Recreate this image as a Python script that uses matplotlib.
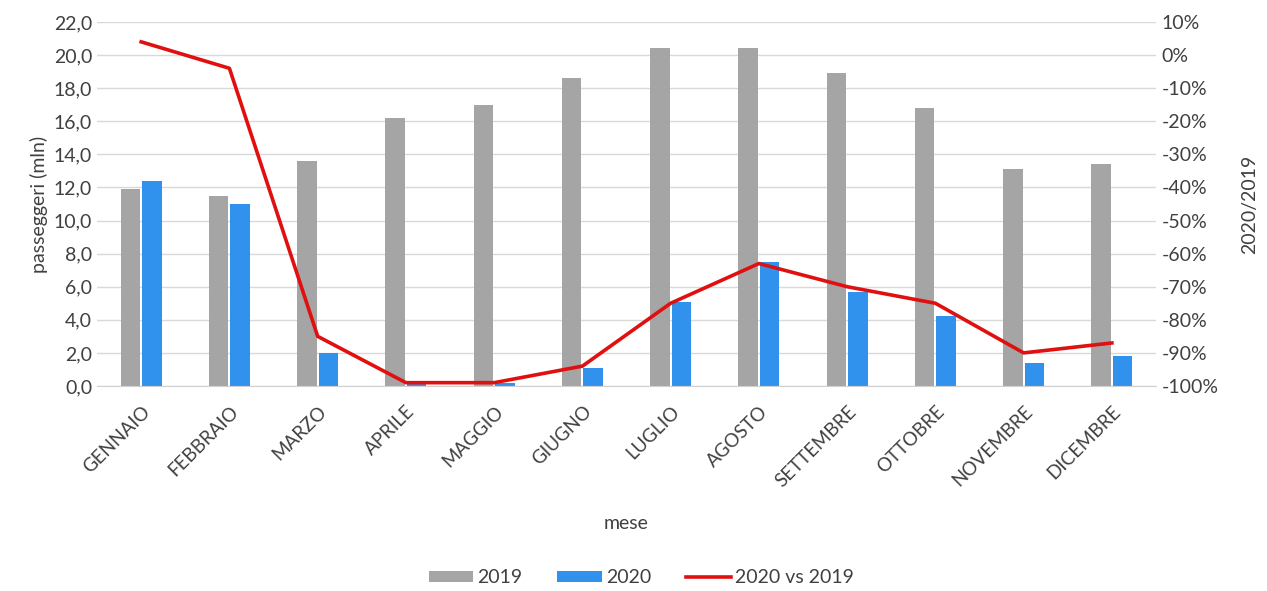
import matplotlib
matplotlib.use("Agg")
import matplotlib.pyplot as plt
import numpy as np
from matplotlib.ticker import FuncFormatter

plt.rcParams['font.family'] = ['Lato', 'DejaVu Sans']

mesi = ['GENNAIO', 'FEBBRAIO', 'MARZO', 'APRILE', 'MAGGIO', 'GIUGNO',
        'LUGLIO', 'AGOSTO', 'SETTEMBRE', 'OTTOBRE', 'NOVEMBRE', 'DICEMBRE']
pax_2019 = [11.9, 11.5, 13.6, 16.2, 17.0, 18.6, 20.4, 20.4, 18.9, 16.8, 13.1, 13.4]
pax_2020 = [12.4, 11.0, 2.0, 0.1, 0.2, 1.1, 5.1, 7.5, 5.7, 4.2, 1.4, 1.8]
var_pct = [4, -4, -85, -99, -99, -94, -75, -63, -70, -75, -90, -87]

grigio = '#A5A5A5'
blu = '#3192EE'
rosso = '#E01010'
testo = '#404040'

fig = plt.figure(figsize=(12.67, 5.91), dpi=100)
ax = fig.add_axes([0.0766, 0.3469, 0.8358, 0.6159])

x = np.arange(len(mesi))
w = 0.22
b1 = ax.bar(x - 0.122, pax_2019, w, color=grigio, label='2019', zorder=2)
b2 = ax.bar(x + 0.122, pax_2020, w, color=blu, label='2020', zorder=2)

ax.set_xlim(-0.5, len(mesi) - 0.5)
ax.set_ylim(0, 22)
ax.set_yticks(np.arange(0, 22.1, 2))
ax.yaxis.set_major_formatter(FuncFormatter(lambda v, p: f'{v:.1f}'.replace('.', ',')))
ax.grid(axis='y', color='#D9D9D9', linewidth=1, zorder=0)
ax.set_axisbelow(True)
for s in ['top', 'right', 'left']:
    ax.spines[s].set_visible(False)
ax.spines['bottom'].set_color('#D0D0D0')
ax.tick_params(length=0, labelsize=14, colors=testo)
ax.set_xticks(x)
ax.set_xticklabels(mesi, rotation=45, ha='right', rotation_mode='anchor', fontsize=13.5)
ax.tick_params(axis='x', pad=12)
ax.set_ylabel('passeggeri (mln)', fontsize=14, color=testo, labelpad=4)
ax.set_xlabel('mese', fontsize=14, color=testo, labelpad=18)

ax2 = ax.twinx()
ln, = ax2.plot(x, var_pct, color=rosso, linewidth=2.6, label='2020 vs 2019', zorder=3)
ax2.set_ylim(-100, 10)
ax2.set_yticks(np.arange(-100, 11, 10))
ax2.yaxis.set_major_formatter(FuncFormatter(lambda v, p: f'{v:.0f}%'))
for s in ax2.spines.values():
    s.set_visible(False)
ax2.tick_params(length=0, labelsize=14, colors=testo, pad=4)
ax2.set_ylabel('2020/2019', fontsize=14, color=testo, labelpad=16)

fig.legend(handles=[b1, b2, ln], labels=['2019', '2020', '2020 vs 2019'],
           loc='center', bbox_to_anchor=(0.506, 0.022), ncol=3, frameon=False,
           fontsize=14, handlelength=2.3, handleheight=0.55, columnspacing=1.8,
           handletextpad=0.2, labelcolor=testo)

fig.savefig('out.png', dpi=100)
